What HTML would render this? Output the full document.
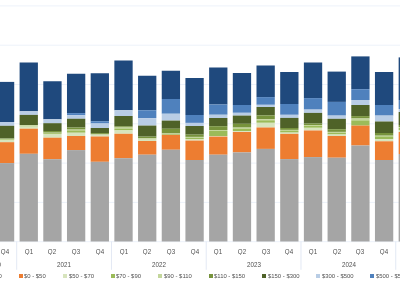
<!DOCTYPE html>
<html><head><meta charset="utf-8"><style>
html,body{margin:0;padding:0;background:#fff;width:400px;height:283px;overflow:hidden;position:relative;font-family:"Liberation Sans",sans-serif}
svg{position:absolute;left:0;top:0}
.q{position:absolute;top:246.9px;width:30px;height:8.1px;overflow:hidden;text-align:center;font-size:6.4px;line-height:9px;color:#505050;white-space:nowrap;transform:scaleX(0.97)}
.yr{position:absolute;top:260.1px;width:40px;text-align:center;font-size:8px;line-height:9px;color:#505050;white-space:nowrap;transform:scaleX(0.78)}
.lm{position:absolute;top:274px;width:4px;height:4px}
.lt{position:absolute;top:272px;font-size:6px;line-height:8px;color:#505050;white-space:nowrap;transform:scaleX(0.985);transform-origin:0 0}
#txt{position:absolute;left:0;top:0;width:400px;height:283px;will-change:transform}
</style></head><body>
<svg width="400" height="283" viewBox="0 0 400 283" shape-rendering="geometricPrecision">
<rect x="0" y="5.40" width="400" height="1" fill="#edf2fa"/><rect x="0" y="44.70" width="400" height="1" fill="#edf2fa"/><rect x="0" y="84.00" width="400" height="1" fill="#edf2fa"/><rect x="0" y="123.30" width="400" height="1" fill="#edf2fa"/><rect x="0" y="162.60" width="400" height="1" fill="#edf2fa"/><rect x="0" y="201.90" width="400" height="1" fill="#edf2fa"/><rect x="0" y="241.20" width="400" height="1" fill="#edf2fa"/><rect x="-4.09" y="81.90" width="18.3" height="40.10" fill="#1f497d"/><rect x="-4.09" y="122.00" width="18.3" height="3.80" fill="#b9cde5"/><rect x="-4.09" y="125.80" width="18.3" height="12.60" fill="#4f6228"/><rect x="-4.09" y="138.40" width="18.3" height="0.50" fill="#77933c"/><rect x="-4.09" y="138.90" width="18.3" height="0.50" fill="#c3d69b"/><rect x="-4.09" y="139.40" width="18.3" height="0.60" fill="#9bbb59"/><rect x="-4.09" y="140.00" width="18.3" height="2.20" fill="#d7e4bd"/><rect x="-4.09" y="142.20" width="18.3" height="20.90" fill="#ed7d31"/><rect x="-4.09" y="163.10" width="18.3" height="78.40" fill="#a5a5a5"/><rect x="19.60" y="62.50" width="18.3" height="48.80" fill="#1f497d"/><rect x="19.60" y="111.30" width="18.3" height="3.60" fill="#b9cde5"/><rect x="19.60" y="114.90" width="18.3" height="10.10" fill="#4f6228"/><rect x="19.60" y="125.00" width="18.3" height="0.30" fill="#77933c"/><rect x="19.60" y="125.30" width="18.3" height="1.20" fill="#c3d69b"/><rect x="19.60" y="126.50" width="18.3" height="0.30" fill="#9bbb59"/><rect x="19.60" y="126.80" width="18.3" height="1.90" fill="#d7e4bd"/><rect x="19.60" y="128.70" width="18.3" height="25.10" fill="#ed7d31"/><rect x="19.60" y="153.80" width="18.3" height="87.70" fill="#a5a5a5"/><rect x="43.29" y="81.25" width="18.3" height="38.05" fill="#1f497d"/><rect x="43.29" y="119.30" width="18.3" height="3.90" fill="#b9cde5"/><rect x="43.29" y="123.20" width="18.3" height="7.80" fill="#4f6228"/><rect x="43.29" y="131.00" width="18.3" height="1.70" fill="#77933c"/><rect x="43.29" y="132.70" width="18.3" height="0.50" fill="#c3d69b"/><rect x="43.29" y="133.20" width="18.3" height="0.80" fill="#9bbb59"/><rect x="43.29" y="134.00" width="18.3" height="3.70" fill="#d7e4bd"/><rect x="43.29" y="137.70" width="18.3" height="21.50" fill="#ed7d31"/><rect x="43.29" y="159.20" width="18.3" height="82.30" fill="#a5a5a5"/><rect x="66.98" y="73.75" width="18.3" height="39.35" fill="#1f497d"/><rect x="66.98" y="113.10" width="18.3" height="2.15" fill="#4f81bd"/><rect x="66.98" y="115.25" width="18.3" height="3.50" fill="#b9cde5"/><rect x="66.98" y="118.75" width="18.3" height="8.75" fill="#4f6228"/><rect x="66.98" y="127.50" width="18.3" height="2.10" fill="#77933c"/><rect x="66.98" y="129.60" width="18.3" height="0.80" fill="#c3d69b"/><rect x="66.98" y="130.40" width="18.3" height="2.35" fill="#9bbb59"/><rect x="66.98" y="132.75" width="18.3" height="3.25" fill="#d7e4bd"/><rect x="66.98" y="136.00" width="18.3" height="14.10" fill="#ed7d31"/><rect x="66.98" y="150.10" width="18.3" height="91.40" fill="#a5a5a5"/><rect x="90.67" y="73.25" width="18.3" height="48.00" fill="#1f497d"/><rect x="90.67" y="121.25" width="18.3" height="2.25" fill="#4f81bd"/><rect x="90.67" y="123.50" width="18.3" height="4.50" fill="#b9cde5"/><rect x="90.67" y="128.00" width="18.3" height="5.10" fill="#4f6228"/><rect x="90.67" y="133.10" width="18.3" height="1.40" fill="#77933c"/><rect x="90.67" y="134.50" width="18.3" height="2.00" fill="#d7e4bd"/><rect x="90.67" y="136.50" width="18.3" height="25.30" fill="#ed7d31"/><rect x="90.67" y="161.80" width="18.3" height="79.70" fill="#a5a5a5"/><rect x="114.36" y="60.50" width="18.3" height="49.75" fill="#1f497d"/><rect x="114.36" y="110.25" width="18.3" height="5.75" fill="#b9cde5"/><rect x="114.36" y="116.00" width="18.3" height="10.25" fill="#4f6228"/><rect x="114.36" y="126.25" width="18.3" height="1.25" fill="#77933c"/><rect x="114.36" y="127.50" width="18.3" height="1.00" fill="#c3d69b"/><rect x="114.36" y="128.50" width="18.3" height="1.90" fill="#9bbb59"/><rect x="114.36" y="130.40" width="18.3" height="3.40" fill="#d7e4bd"/><rect x="114.36" y="133.80" width="18.3" height="24.40" fill="#ed7d31"/><rect x="114.36" y="158.20" width="18.3" height="83.30" fill="#a5a5a5"/><rect x="138.05" y="75.75" width="18.3" height="34.50" fill="#1f497d"/><rect x="138.05" y="110.25" width="18.3" height="7.85" fill="#4f81bd"/><rect x="138.05" y="118.10" width="18.3" height="7.50" fill="#b9cde5"/><rect x="138.05" y="125.60" width="18.3" height="11.00" fill="#4f6228"/><rect x="138.05" y="136.60" width="18.3" height="1.70" fill="#77933c"/><rect x="138.05" y="138.30" width="18.3" height="0.70" fill="#c3d69b"/><rect x="138.05" y="139.00" width="18.3" height="0.50" fill="#9bbb59"/><rect x="138.05" y="139.50" width="18.3" height="1.50" fill="#d7e4bd"/><rect x="138.05" y="141.00" width="18.3" height="13.70" fill="#ed7d31"/><rect x="138.05" y="154.70" width="18.3" height="86.80" fill="#a5a5a5"/><rect x="161.74" y="70.75" width="18.3" height="28.25" fill="#1f497d"/><rect x="161.74" y="99.00" width="18.3" height="14.75" fill="#4f81bd"/><rect x="161.74" y="113.75" width="18.3" height="6.85" fill="#b9cde5"/><rect x="161.74" y="120.60" width="18.3" height="8.15" fill="#4f6228"/><rect x="161.74" y="128.75" width="18.3" height="4.75" fill="#77933c"/><rect x="161.74" y="133.50" width="18.3" height="0.70" fill="#c3d69b"/><rect x="161.74" y="134.20" width="18.3" height="0.70" fill="#9bbb59"/><rect x="161.74" y="134.90" width="18.3" height="14.85" fill="#ed7d31"/><rect x="161.74" y="149.75" width="18.3" height="91.75" fill="#a5a5a5"/><rect x="185.43" y="78.00" width="18.3" height="37.00" fill="#1f497d"/><rect x="185.43" y="115.00" width="18.3" height="7.90" fill="#4f81bd"/><rect x="185.43" y="122.90" width="18.3" height="3.10" fill="#b9cde5"/><rect x="185.43" y="126.00" width="18.3" height="8.60" fill="#4f6228"/><rect x="185.43" y="134.60" width="18.3" height="2.30" fill="#77933c"/><rect x="185.43" y="136.90" width="18.3" height="0.85" fill="#c3d69b"/><rect x="185.43" y="137.75" width="18.3" height="1.25" fill="#9bbb59"/><rect x="185.43" y="139.00" width="18.3" height="1.60" fill="#d7e4bd"/><rect x="185.43" y="140.60" width="18.3" height="19.40" fill="#ed7d31"/><rect x="185.43" y="160.00" width="18.3" height="81.50" fill="#a5a5a5"/><rect x="209.12" y="67.50" width="18.3" height="37.00" fill="#1f497d"/><rect x="209.12" y="104.50" width="18.3" height="10.25" fill="#4f81bd"/><rect x="209.12" y="114.75" width="18.3" height="3.25" fill="#b9cde5"/><rect x="209.12" y="118.00" width="18.3" height="8.20" fill="#4f6228"/><rect x="209.12" y="126.20" width="18.3" height="3.80" fill="#77933c"/><rect x="209.12" y="130.00" width="18.3" height="0.90" fill="#c3d69b"/><rect x="209.12" y="130.90" width="18.3" height="5.10" fill="#9bbb59"/><rect x="209.12" y="136.00" width="18.3" height="0.60" fill="#d7e4bd"/><rect x="209.12" y="136.60" width="18.3" height="18.10" fill="#ed7d31"/><rect x="209.12" y="154.70" width="18.3" height="86.80" fill="#a5a5a5"/><rect x="232.81" y="73.00" width="18.3" height="32.00" fill="#1f497d"/><rect x="232.81" y="105.00" width="18.3" height="7.80" fill="#4f81bd"/><rect x="232.81" y="112.80" width="18.3" height="2.80" fill="#b9cde5"/><rect x="232.81" y="115.60" width="18.3" height="8.20" fill="#4f6228"/><rect x="232.81" y="123.80" width="18.3" height="3.80" fill="#77933c"/><rect x="232.81" y="127.60" width="18.3" height="1.00" fill="#c3d69b"/><rect x="232.81" y="128.60" width="18.3" height="2.60" fill="#9bbb59"/><rect x="232.81" y="131.20" width="18.3" height="0.80" fill="#d7e4bd"/><rect x="232.81" y="132.00" width="18.3" height="20.40" fill="#ed7d31"/><rect x="232.81" y="152.40" width="18.3" height="89.10" fill="#a5a5a5"/><rect x="256.50" y="65.50" width="18.3" height="31.60" fill="#1f497d"/><rect x="256.50" y="97.10" width="18.3" height="7.70" fill="#4f81bd"/><rect x="256.50" y="104.80" width="18.3" height="2.20" fill="#b9cde5"/><rect x="256.50" y="107.00" width="18.3" height="8.40" fill="#4f6228"/><rect x="256.50" y="115.40" width="18.3" height="3.90" fill="#77933c"/><rect x="256.50" y="119.30" width="18.3" height="1.00" fill="#c3d69b"/><rect x="256.50" y="120.30" width="18.3" height="2.50" fill="#9bbb59"/><rect x="256.50" y="122.80" width="18.3" height="4.70" fill="#d7e4bd"/><rect x="256.50" y="127.50" width="18.3" height="21.40" fill="#ed7d31"/><rect x="256.50" y="148.90" width="18.3" height="92.60" fill="#a5a5a5"/><rect x="280.19" y="72.00" width="18.3" height="32.00" fill="#1f497d"/><rect x="280.19" y="104.00" width="18.3" height="10.80" fill="#4f81bd"/><rect x="280.19" y="114.80" width="18.3" height="3.10" fill="#b9cde5"/><rect x="280.19" y="117.90" width="18.3" height="10.10" fill="#4f6228"/><rect x="280.19" y="128.00" width="18.3" height="1.90" fill="#77933c"/><rect x="280.19" y="129.90" width="18.3" height="0.70" fill="#c3d69b"/><rect x="280.19" y="130.60" width="18.3" height="2.00" fill="#9bbb59"/><rect x="280.19" y="132.60" width="18.3" height="1.30" fill="#d7e4bd"/><rect x="280.19" y="133.90" width="18.3" height="25.20" fill="#ed7d31"/><rect x="280.19" y="159.10" width="18.3" height="82.40" fill="#a5a5a5"/><rect x="303.88" y="62.50" width="18.3" height="35.60" fill="#1f497d"/><rect x="303.88" y="98.10" width="18.3" height="11.50" fill="#4f81bd"/><rect x="303.88" y="109.60" width="18.3" height="3.30" fill="#b9cde5"/><rect x="303.88" y="112.90" width="18.3" height="10.70" fill="#4f6228"/><rect x="303.88" y="123.60" width="18.3" height="1.40" fill="#77933c"/><rect x="303.88" y="125.00" width="18.3" height="0.90" fill="#c3d69b"/><rect x="303.88" y="125.90" width="18.3" height="1.90" fill="#9bbb59"/><rect x="303.88" y="127.80" width="18.3" height="2.70" fill="#d7e4bd"/><rect x="303.88" y="130.50" width="18.3" height="26.60" fill="#ed7d31"/><rect x="303.88" y="157.10" width="18.3" height="84.40" fill="#a5a5a5"/><rect x="327.57" y="71.60" width="18.3" height="30.30" fill="#1f497d"/><rect x="327.57" y="101.90" width="18.3" height="13.70" fill="#4f81bd"/><rect x="327.57" y="115.60" width="18.3" height="3.20" fill="#b9cde5"/><rect x="327.57" y="118.80" width="18.3" height="10.40" fill="#4f6228"/><rect x="327.57" y="129.20" width="18.3" height="2.70" fill="#77933c"/><rect x="327.57" y="131.90" width="18.3" height="0.90" fill="#c3d69b"/><rect x="327.57" y="132.80" width="18.3" height="1.70" fill="#9bbb59"/><rect x="327.57" y="134.50" width="18.3" height="1.50" fill="#d7e4bd"/><rect x="327.57" y="136.00" width="18.3" height="21.70" fill="#ed7d31"/><rect x="327.57" y="157.70" width="18.3" height="83.80" fill="#a5a5a5"/><rect x="351.26" y="56.40" width="18.3" height="32.80" fill="#1f497d"/><rect x="351.26" y="89.20" width="18.3" height="10.80" fill="#4f81bd"/><rect x="351.26" y="100.00" width="18.3" height="5.00" fill="#b9cde5"/><rect x="351.26" y="105.00" width="18.3" height="11.10" fill="#4f6228"/><rect x="351.26" y="116.10" width="18.3" height="2.40" fill="#77933c"/><rect x="351.26" y="118.50" width="18.3" height="1.90" fill="#c3d69b"/><rect x="351.26" y="120.40" width="18.3" height="5.20" fill="#9bbb59"/><rect x="351.26" y="125.60" width="18.3" height="19.90" fill="#ed7d31"/><rect x="351.26" y="145.50" width="18.3" height="96.00" fill="#a5a5a5"/><rect x="374.95" y="72.00" width="18.3" height="33.00" fill="#1f497d"/><rect x="374.95" y="105.00" width="18.3" height="10.60" fill="#4f81bd"/><rect x="374.95" y="115.60" width="18.3" height="5.90" fill="#b9cde5"/><rect x="374.95" y="121.50" width="18.3" height="11.50" fill="#4f6228"/><rect x="374.95" y="133.00" width="18.3" height="2.70" fill="#77933c"/><rect x="374.95" y="135.70" width="18.3" height="0.70" fill="#c3d69b"/><rect x="374.95" y="136.40" width="18.3" height="2.80" fill="#9bbb59"/><rect x="374.95" y="139.20" width="18.3" height="2.10" fill="#d7e4bd"/><rect x="374.95" y="141.30" width="18.3" height="18.70" fill="#ed7d31"/><rect x="374.95" y="160.00" width="18.3" height="81.50" fill="#a5a5a5"/><rect x="398.64" y="57.40" width="18.3" height="42.60" fill="#1f497d"/><rect x="398.64" y="100.00" width="18.3" height="9.00" fill="#4f81bd"/><rect x="398.64" y="109.00" width="18.3" height="3.00" fill="#b9cde5"/><rect x="398.64" y="112.00" width="18.3" height="13.00" fill="#4f6228"/><rect x="398.64" y="125.00" width="18.3" height="2.00" fill="#77933c"/><rect x="398.64" y="127.00" width="18.3" height="1.00" fill="#c3d69b"/><rect x="398.64" y="128.00" width="18.3" height="2.00" fill="#9bbb59"/><rect x="398.64" y="130.00" width="18.3" height="2.00" fill="#d7e4bd"/><rect x="398.64" y="132.00" width="18.3" height="22.00" fill="#ed7d31"/><rect x="398.64" y="154.00" width="18.3" height="87.50" fill="#a5a5a5"/><rect x="16.20" y="241.5" width="1" height="28.3" fill="#e3e9f4"/><rect x="110.96" y="241.5" width="1" height="28.3" fill="#e3e9f4"/><rect x="205.72" y="241.5" width="1" height="28.3" fill="#e3e9f4"/><rect x="300.48" y="241.5" width="1" height="28.3" fill="#e3e9f4"/><rect x="395.24" y="241.5" width="1" height="28.3" fill="#e3e9f4"/>
</svg>
<div id="txt"><div class="q" style="left:-9.94px">Q4</div><div class="q" style="left:13.75px">Q1</div><div class="q" style="left:37.44px">Q2</div><div class="q" style="left:61.13px">Q3</div><div class="q" style="left:84.82px">Q4</div><div class="q" style="left:108.51px">Q1</div><div class="q" style="left:132.20px">Q2</div><div class="q" style="left:155.89px">Q3</div><div class="q" style="left:179.58px">Q4</div><div class="q" style="left:203.27px">Q1</div><div class="q" style="left:226.96px">Q2</div><div class="q" style="left:250.65px">Q3</div><div class="q" style="left:274.34px">Q4</div><div class="q" style="left:298.03px">Q1</div><div class="q" style="left:321.72px">Q2</div><div class="q" style="left:345.41px">Q3</div><div class="q" style="left:369.10px">Q4</div><div class="q" style="left:392.79px">Q1</div><div class="yr" style="left:-26.40px">2020</div><div class="yr" style="left:44.28px">2021</div><div class="yr" style="left:139.05px">2022</div><div class="yr" style="left:233.81px">2023</div><div class="yr" style="left:328.57px">2024</div><div class="yr" style="left:423.33px">2025</div><div class="lt" style="right:398px;transform-origin:100% 0">Below $0</div><div class="lm" style="left:19.00px;background:#ed7d31"></div><div class="lt" style="left:24.40px">$0 - $50</div><div class="lm" style="left:63.20px;background:#d7e4bd"></div><div class="lt" style="left:68.60px">$50 - $70</div><div class="lm" style="left:110.70px;background:#9bbb59"></div><div class="lt" style="left:116.10px">$70 - $90</div><div class="lm" style="left:158.20px;background:#c3d69b"></div><div class="lt" style="left:163.60px">$90 - $110</div><div class="lm" style="left:208.70px;background:#77933c"></div><div class="lt" style="left:214.10px">$110 - $150</div><div class="lm" style="left:262.30px;background:#4f6228"></div><div class="lt" style="left:267.70px">$150 - $300</div><div class="lm" style="left:316.20px;background:#b9cde5"></div><div class="lt" style="left:321.60px">$300 - $500</div><div class="lm" style="left:370.30px;background:#4f81bd"></div><div class="lt" style="left:375.70px">$500 - $5000</div></div>
</body></html>
